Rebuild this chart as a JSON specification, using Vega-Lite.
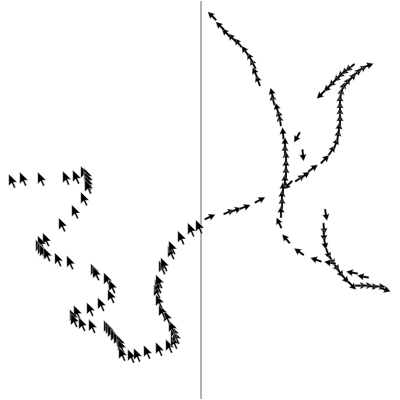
{
  "$schema": "https://vega.github.io/schema/vega-lite/v6.json",
  "width": 400,
  "height": 400,
  "autosize": {"type": "fit", "contains": "padding"},
  "padding": 0,
  "config": {"view": {"stroke": null}},
  "datasets": {
    "cursors": [
      {"x":13,"y":181},{"x":24,"y":179},{"x":42,"y":179},{"x":67,"y":178},{"x":77,"y":177},{"x":85,"y":173},{"x":88,"y":175},{"x":89,"y":179},{"x":89,"y":183},{"x":89,"y":187},{"x":85,"y":199},{"x":76,"y":212},{"x":63,"y":225},{"x":47,"y":240},{"x":42,"y":243},{"x":40,"y":247},{"x":42,"y":250},{"x":44,"y":252},{"x":48,"y":255},{"x":59,"y":260},{"x":71,"y":263},
      {"x":95,"y":271},{"x":97,"y":274},{"x":108,"y":280},{"x":113,"y":287},{"x":112,"y":297},{"x":102,"y":305},{"x":91,"y":310},{"x":78,"y":313},{"x":74,"y":317},{"x":75,"y":321},{"x":83,"y":325},{"x":93,"y":327},{"x":108,"y":328},{"x":110,"y":330},{"x":112,"y":333},{"x":115,"y":337},{"x":118,"y":340},{"x":121,"y":343},{"x":122,"y":347},{"x":123,"y":355},{"x":132,"y":357},{"x":138,"y":356},{"x":148,"y":353},{"x":160,"y":350},{"x":170,"y":347},{"x":175,"y":343},{"x":177,"y":338},{"x":175,"y":333},{"x":173,"y":328},{"x":168,"y":318},{"x":163,"y":312},{"x":160,"y":302},{"x":158,"y":292},{"x":159,"y":287},{"x":160,"y":282},{"x":163,"y":268},{"x":165,"y":265},{"x":172,"y":253},{"x":173,"y":248},{"x":182,"y":238},{"x":192,"y":230},{"x":200,"y":227}
    ],
    "arrows": [
      {"x":210,"y":217,"a":65},{"x":229,"y":212,"a":68},{"x":236,"y":210,"a":70},{"x":245,"y":207,"a":70},{"x":260,"y":200,"a":62},
      {"x":300,"y":178,"a":55},{"x":305,"y":175,"a":55},{"x":313,"y":168,"a":55},{"x":325,"y":159,"a":45},{"x":332,"y":150,"a":35},{"x":336,"y":143,"a":20},{"x":338,"y":135,"a":8},{"x":339,"y":128,"a":3},{"x":340,"y":120,"a":0},{"x":340,"y":113,"a":0},{"x":340,"y":107,"a":0},{"x":340,"y":100,"a":0},{"x":341,"y":93,"a":10},{"x":343,"y":87,"a":20},{"x":347,"y":82,"a":35},{"x":352,"y":77,"a":45},{"x":357,"y":72,"a":55},{"x":362,"y":68,"a":62},{"x":368,"y":65,"a":70},
      {"x":350,"y":67,"a":230},{"x":346,"y":70,"a":230},{"x":342,"y":73,"a":228},{"x":338,"y":77,"a":225},{"x":333,"y":82,"a":225},{"x":328,"y":87,"a":225},{"x":321,"y":94,"a":225},
      {"x":297,"y":137,"a":210},{"x":303,"y":155,"a":175},{"x":288,"y":185,"a":225},
      {"x":326,"y":215,"a":170},{"x":324,"y":229,"a":175},{"x":324,"y":236,"a":175},{"x":325,"y":244,"a":170},{"x":328,"y":254,"a":160},{"x":332,"y":261,"a":150},{"x":336,"y":267,"a":145},{"x":340,"y":273,"a":145},{"x":345,"y":279,"a":140},{"x":352,"y":286,"a":135},
      {"x":361,"y":286,"a":90},{"x":367,"y":286,"a":90},{"x":373,"y":287,"a":95},{"x":380,"y":287,"a":95},{"x":385,"y":290,"a":110},
      {"x":363,"y":277,"a":-80},{"x":352,"y":273,"a":-80},{"x":330,"y":263,"a":-80},{"x":316,"y":260,"a":-70},{"x":299,"y":252,"a":-55},{"x":286,"y":239,"a":-40},{"x":279,"y":223,"a":-25},
      {"x":281,"y":212,"a":0},{"x":282,"y":203,"a":0},{"x":282,"y":196,"a":0},{"x":283,"y":188,"a":0},{"x":285,"y":180,"a":0},{"x":286,"y":172,"a":0},{"x":286,"y":165,"a":0},{"x":286,"y":157,"a":0},{"x":285,"y":150,"a":0},{"x":285,"y":143,"a":0},{"x":283,"y":133,"a":-5},{"x":280,"y":120,"a":-10},{"x":279,"y":115,"a":-15},{"x":277,"y":108,"a":-15},{"x":273,"y":99,"a":-15},{"x":272,"y":93,"a":-15},
      {"x":258,"y":80,"a":-20},{"x":255,"y":72,"a":-25},{"x":253,"y":63,"a":-28},{"x":250,"y":57,"a":-30},{"x":245,"y":50,"a":-35},{"x":238,"y":42,"a":-40},{"x":232,"y":37,"a":-45},{"x":226,"y":32,"a":-45},{"x":220,"y":25,"a":-45},{"x":212,"y":15,"a":-45}
    ],
    "line": [{"x": 201}]
  },
  "layer": [
    {
      "data": {"name": "line"},
      "mark": {"type": "rule", "color": "#999999", "strokeWidth": 1.5},
      "encoding": {
        "x": {"field": "x", "type": "quantitative", "scale": {"domain": [0, 400], "nice": false, "zero": false}, "axis": null}
      }
    },
    {
      "data": {"name": "cursors"},
      "mark": {
        "type": "point",
        "shape": "M-0.6,-1L-0.6,0.68L-0.18,0.26L0.14,1L0.38,0.89L0.05,0.16L0.58,0.16Z",
        "size": 200,
        "filled": true,
        "fill": "#000000",
        "stroke": "#ffffff",
        "strokeWidth": 0.4,
        "opacity": 1
      },
      "encoding": {
        "x": {"field": "x", "type": "quantitative", "scale": {"domain": [0, 400], "nice": false, "zero": false}, "axis": null},
        "y": {"field": "y", "type": "quantitative", "scale": {"domain": [0, 400], "nice": false, "zero": false, "reverse": true}, "axis": null}
      }
    },
    {
      "data": {"name": "arrows"},
      "mark": {
        "type": "point",
        "shape": "M0,-1L0.6,0.15L0.18,0.05L0.18,1L-0.18,1L-0.18,0.05L-0.6,0.15Z",
        "size": 144,
        "filled": true,
        "fill": "#000000",
        "stroke": "#ffffff",
        "strokeWidth": 0.3,
        "opacity": 1
      },
      "encoding": {
        "x": {"field": "x", "type": "quantitative", "scale": {"domain": [0, 400], "nice": false, "zero": false}, "axis": null},
        "y": {"field": "y", "type": "quantitative", "scale": {"domain": [0, 400], "nice": false, "zero": false, "reverse": true}, "axis": null},
        "angle": {"field": "a", "type": "quantitative", "scale": null}
      }
    }
  ]
}
